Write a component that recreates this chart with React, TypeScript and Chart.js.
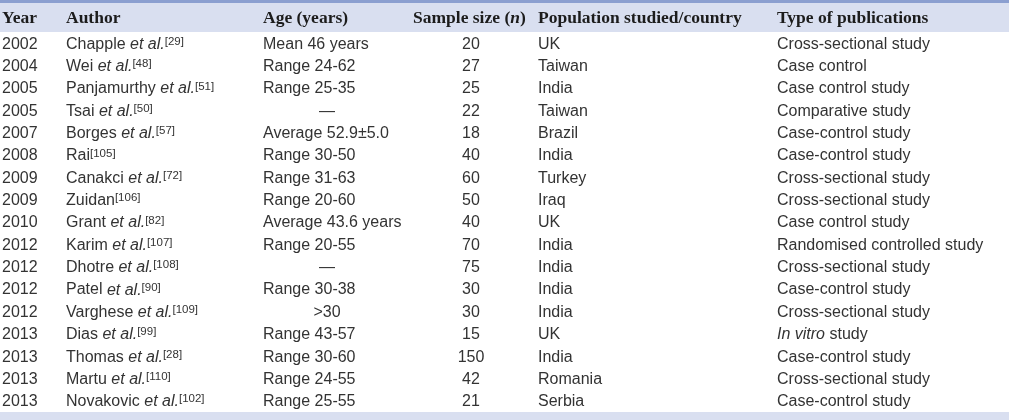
import React, { useEffect, useRef } from "react";
import { Chart, registerables } from "chart.js";

Chart.register(...registerables);

// ---- Data ----
const headers = ["Year", "Author", "Age (years)", "Sample size (n)", "Population studied/country", "Type of publications"];
const years = [2002, 2004, 2005, 2005, 2007, 2008, 2009, 2009, 2010, 2012, 2012, 2012, 2012, 2013, 2013, 2013, 2013];
const authorNames = ["Chapple", "Wei", "Panjamurthy", "Tsai", "Borges", "Rai", "Canakci", "Zuidan", "Grant", "Karim", "Dhotre", "Patel", "Varghese", "Dias", "Thomas", "Martu", "Novakovic"];
const authorEtAl = [true, true, true, true, true, false, true, false, true, true, true, true, true, true, true, true, true];
const authorRefs = ["29", "48", "51", "50", "57", "105", "72", "106", "82", "107", "108", "90", "109", "99", "28", "110", "102"];
const ages = ["Mean 46 years", "Range 24-62", "Range 25-35", "—", "Average 52.9±5.0", "Range 30-50", "Range 31-63", "Range 20-60", "Average 43.6 years", "Range 20-55", "—", "Range 30-38", ">30", "Range 43-57", "Range 30-60", "Range 24-55", "Range 25-55"];
const sampleSizes = [20, 27, 25, 22, 18, 40, 60, 50, 40, 70, 75, 30, 30, 15, 150, 42, 21];
const countries = ["UK", "Taiwan", "India", "Taiwan", "Brazil", "India", "Turkey", "Iraq", "UK", "India", "India", "India", "India", "UK", "India", "Romania", "Serbia"];
const pubTypes = ["Cross-sectional study", "Case control", "Case control study", "Comparative study", "Case-control study", "Case-control study", "Cross-sectional study", "Cross-sectional study", "Case control study", "Randomised controlled study", "Cross-sectional study", "Case-control study", "Cross-sectional study", "In vitro study", "Case-control study", "Cross-sectional study", "Case-control study"];

// ---- Style ----
const SANS = '"Liberation Sans", Arial, Helvetica, sans-serif';
const SERIF = '"Liberation Serif", "Times New Roman", serif';
const BODY_SIZE = 16;
const HEAD_SIZE = 17.5;
const SUP_SIZE = 11.5;
const BODY_COLOR = "#333333";
const HEAD_COLOR = "#1c1c1c";
const HEAD_BG = "#d9dff0";
const TOP_LINE = "#8b9fd0";
// column anchors (x-scale units)
const headX = [2, 66, 263, 413, 538, 777];
const colX = [2, 66, 263, 471, 538, 777];
const ageCenterX = 327;

type Seg = { t: string; f: string; dy?: number };

function italicize(text: string, base: string, ital: string, words: string[]): Seg[] {
  let segs: Seg[] = [{ t: text, f: base }];
  for (const w of words) {
    const next: Seg[] = [];
    for (const s of segs) {
      if (s.f !== base || s.t.indexOf(w) < 0) { next.push(s); continue; }
      const parts = s.t.split(w);
      parts.forEach((p, k) => {
        if (p) next.push({ t: p, f: base });
        if (k < parts.length - 1) next.push({ t: w, f: ital });
      });
    }
    segs = next;
  }
  return segs;
}

function drawSegs(ctx: CanvasRenderingContext2D, segs: Seg[], x: number, y: number, align: string) {
  let total = 0;
  for (const s of segs) { ctx.font = s.f; total += ctx.measureText(s.t).width; }
  let cx = align === "center" ? x - total / 2 : x;
  for (const s of segs) {
    ctx.font = s.f;
    ctx.fillText(s.t, cx, y + (s.dy || 0));
    cx += ctx.measureText(s.t).width;
  }
}

const tablePlugin = {
  id: "tablePlugin",
  beforeDraw(chart: any) {
    const ctx: CanvasRenderingContext2D = chart.ctx;
    const ys = chart.scales.y;
    const W = chart.width;
    const H = chart.height;
    const headBottom = ys.getPixelForValue(-0.5) - 1;
    const tableBottom = ys.getPixelForValue(years.length - 0.5) - 1;
    ctx.save();
    ctx.fillStyle = "#ffffff";
    ctx.fillRect(0, 0, W, H);
    ctx.fillStyle = HEAD_BG;
    ctx.fillRect(0, 0, W, headBottom);
    ctx.fillStyle = TOP_LINE;
    ctx.fillRect(0, 0, W, 3);
    ctx.fillStyle = HEAD_BG;
    ctx.fillRect(0, tableBottom, W, H - tableBottom);
    ctx.restore();
  },
  afterDraw(chart: any) {
    const ctx: CanvasRenderingContext2D = chart.ctx;
    const xs = chart.scales.x;
    const ys = chart.scales.y;
    const headBottom = ys.getPixelForValue(-0.5) - 1;
    ctx.save();
    ctx.textBaseline = "middle";
    ctx.textAlign = "left";
    // header
    const hb = `bold ${HEAD_SIZE}px ${SERIF}`;
    const hi = `italic bold ${HEAD_SIZE}px ${SERIF}`;
    ctx.fillStyle = HEAD_COLOR;
    const hy = (3 + headBottom) / 2 + 1;
    headers.forEach((h, c) => {
      const segs = italicize(h, hb, hi, ["(n)"]).flatMap((s) =>
        s.t === "(n)" ? [{ t: "(", f: hb }, { t: "n", f: hi }, { t: ")", f: hb }] : [s]
      );
      drawSegs(ctx, segs, xs.getPixelForValue(headX[c]), hy, "left");
    });
    // body
    const bf = `${BODY_SIZE}px ${SANS}`;
    const bi = `italic ${BODY_SIZE}px ${SANS}`;
    const sf = `${SUP_SIZE}px ${SANS}`;
    ctx.fillStyle = BODY_COLOR;
    years.forEach((yr, i) => {
      const y = ys.getPixelForValue(i);
      drawSegs(ctx, [{ t: String(yr), f: bf }], xs.getPixelForValue(colX[0]), y, "left");
      const a: Seg[] = [{ t: authorNames[i] + (authorEtAl[i] ? " " : ""), f: bf }];
      if (authorEtAl[i]) a.push({ t: "et al.", f: bi });
      a.push({ t: "[" + authorRefs[i] + "]", f: sf, dy: -2.5 });
      drawSegs(ctx, a, xs.getPixelForValue(colX[1]), y, "left");
      const age = ages[i];
      if (age === "—" || age === ">30") {
        drawSegs(ctx, [{ t: age, f: bf }], xs.getPixelForValue(ageCenterX), y, "center");
      } else {
        drawSegs(ctx, [{ t: age, f: bf }], xs.getPixelForValue(colX[2]), y, "left");
      }
      drawSegs(ctx, [{ t: String(sampleSizes[i]), f: bf }], xs.getPixelForValue(colX[3]), y, "center");
      drawSegs(ctx, [{ t: countries[i], f: bf }], xs.getPixelForValue(colX[4]), y, "left");
      drawSegs(ctx, italicize(pubTypes[i], bf, bi, ["In vitro"]), xs.getPixelForValue(colX[5]), y, "left");
    });
    ctx.restore();
  },
};

export default function App() {
  const ref = useRef<HTMLCanvasElement | null>(null);
  useEffect(() => {
    document.body.style.margin = "0";
    const canvas = ref.current;
    if (!canvas) return;
    const chart = new Chart(canvas, {
      type: "scatter",
      data: {
        datasets: [
          {
            label: "Sample size (n)",
            data: sampleSizes.map((_, i) => ({ x: colX[3], y: i })),
            pointRadius: 0,
            pointHoverRadius: 0,
            showLine: false,
          },
        ],
      },
      options: {
        animation: false,
        responsive: false,
        events: [],
        layout: { padding: { top: 33, bottom: 7, left: 0, right: 0 } },
        plugins: { legend: { display: false }, tooltip: { enabled: false } },
        scales: {
          x: { type: "linear", display: false, min: 0, max: 1009 },
          y: { type: "linear", display: false, reverse: true, min: -0.5, max: years.length - 0.5 },
        },
      },
      plugins: [tablePlugin],
    });
    return () => chart.destroy();
  }, []);
  return (
    <div style={{ position: "absolute", left: 0, top: 0, width: 1009, height: 420 }}>
      <canvas ref={ref} width={1009} height={420} style={{ display: "block" }} />
    </div>
  );
}
